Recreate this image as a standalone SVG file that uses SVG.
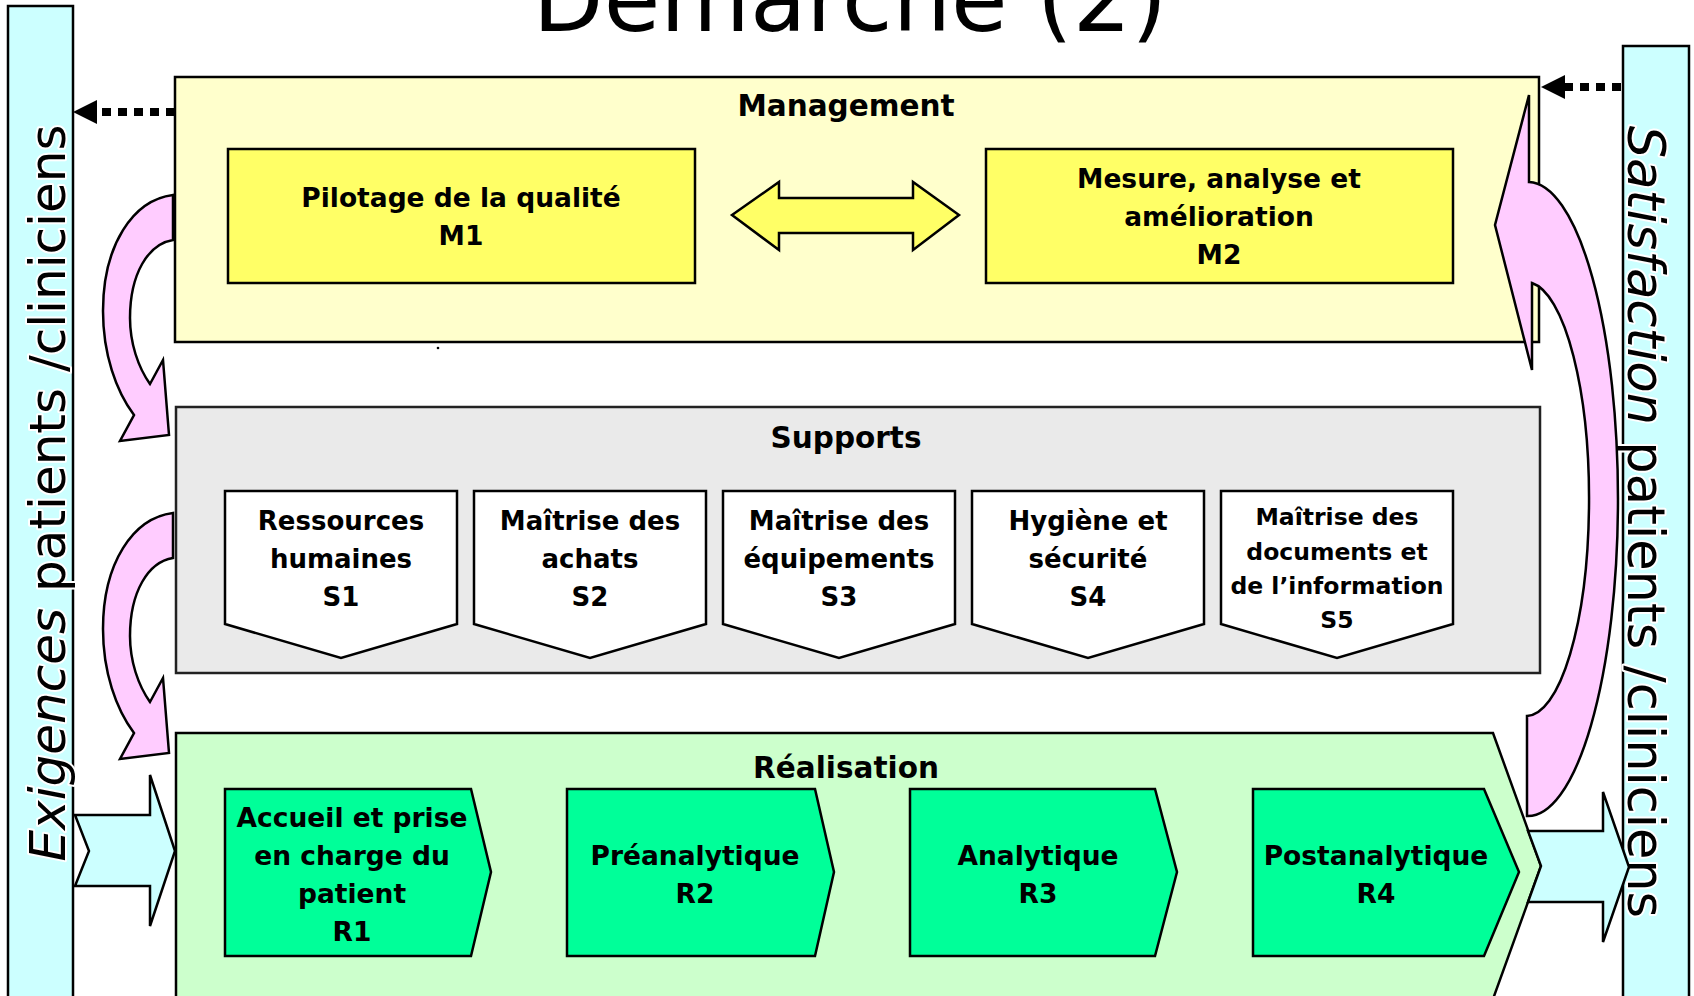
<svg xmlns="http://www.w3.org/2000/svg" width="1694" height="996" viewBox="0 0 1694 996">
<style>
text{font-family:"DejaVu Sans","Liberation Sans",sans-serif;fill:#000}
.h{font-weight:bold;font-size:29.5px;text-anchor:middle}
.m{font-weight:bold;font-size:26.5px;text-anchor:middle}
.s{font-weight:bold;font-size:26px;text-anchor:middle}
.s5{font-weight:bold;font-size:23.5px;text-anchor:middle}
.r{font-weight:bold;font-size:26.5px;text-anchor:middle}
.v{font-size:50px;text-anchor:middle;stroke:#fff;stroke-width:4px;paint-order:stroke;stroke-linejoin:round}
.ln{stroke:#000;stroke-width:2.5;stroke-linejoin:miter}
.pink{fill:#FFCCFF;stroke:#000;stroke-width:2.5}
.cyan{fill:#CCFFFF;stroke:#000;stroke-width:2.5}
.dot{fill:none;stroke:#000;stroke-width:8;stroke-dasharray:9 7}
</style>
<defs>
<marker id="ah" viewBox="0 0 24 24" markerWidth="24" markerHeight="24" refX="0" refY="12" orient="auto" markerUnits="userSpaceOnUse">
<path d="M0,0 L24,12 L0,24 Z" fill="#000"/>
</marker>
</defs>

<text x="850" y="31" font-size="92" text-anchor="middle">Démarche (2)</text>

<g id="exigences">
<rect x="8" y="6" width="65" height="996" fill="#CCFFFF" class="ln"/>
<text class="v" transform="translate(65,493) rotate(-90)"><tspan font-style="italic">Exigences</tspan> patients /cliniciens</text>
</g>

<g id="satisfaction">
<rect x="1623" y="46" width="66" height="956" fill="#CCFFFF" class="ln"/>
<text class="v" style="font-size:51px" transform="translate(1628,522) rotate(90)"><tspan font-style="italic">Satisfaction</tspan> patients /cliniciens</text>
</g>

<g id="management">
<rect x="175" y="77" width="1364" height="265" fill="#FFFFCC" class="ln"/>
<text class="h" x="846" y="116">Management</text>
</g>
<g id="m1">
<rect x="228" y="149" width="467" height="134" fill="#FFFF66" class="ln"/>
<text class="m" x="461" y="207">Pilotage de la qualité</text>
<text class="m" x="461" y="245">M1</text>
</g>
<g id="m2">
<rect x="986" y="149" width="467" height="134" fill="#FFFF66" class="ln"/>
<text class="m" x="1219" y="188">Mesure, analyse et</text>
<text class="m" x="1219" y="226">amélioration</text>
<text class="m" x="1219" y="264">M2</text>
</g>
<circle cx="438" cy="348" r="1.3" fill="#000"/>

<g id="supports">
<rect x="176" y="407" width="1364" height="266" fill="#EAEAEA" stroke="#222" stroke-width="2.5"/>
<text class="h" x="846" y="448">Supports</text>
</g>
<g id="s1">
<path d="M225,491 H457 V624 L341,658 L225,624 Z" fill="#fff" class="ln"/>
<text class="s" x="341" y="530">Ressources</text>
<text class="s" x="341" y="568">humaines</text>
<text class="s" x="341" y="606">S1</text>
</g>
<g id="s2">
<path d="M474,491 H706 V624 L590,658 L474,624 Z" fill="#fff" class="ln"/>
<text class="s" x="590" y="530">Maîtrise des</text>
<text class="s" x="590" y="568">achats</text>
<text class="s" x="590" y="606">S2</text>
</g>
<g id="s3">
<path d="M723,491 H955 V624 L839,658 L723,624 Z" fill="#fff" class="ln"/>
<text class="s" x="839" y="530">Maîtrise des</text>
<text class="s" x="839" y="568">équipements</text>
<text class="s" x="839" y="606">S3</text>
</g>
<g id="s4">
<path d="M972,491 H1204 V624 L1088,658 L972,624 Z" fill="#fff" class="ln"/>
<text class="s" x="1088" y="530">Hygiène et</text>
<text class="s" x="1088" y="568">sécurité</text>
<text class="s" x="1088" y="606">S4</text>
</g>
<g id="s5">
<path d="M1221,491 H1453 V624 L1337,658 L1221,624 Z" fill="#fff" class="ln"/>
<text class="s5" x="1337" y="525">Maîtrise des</text>
<text class="s5" x="1337" y="560">documents et</text>
<text class="s5" x="1337" y="594">de l’information</text>
<text class="s5" x="1337" y="628">S5</text>
</g>

<g id="realisation">
<path d="M176,733 H1493 L1541,866 L1493,999 H176 Z" fill="#CCFFCC" class="ln"/>
<text class="h" x="846" y="778">Réalisation</text>
</g>
<g id="r1">
<path d="M225,789 H471 L491,872 L471,956 H225 Z" fill="#00FF99" class="ln"/>
<text class="r" x="352" y="827">Accueil et prise</text>
<text class="r" x="352" y="865">en charge du</text>
<text class="r" x="352" y="903">patient</text>
<text class="r" x="352" y="941">R1</text>
</g>
<g id="r2">
<path d="M567,789 H815 L834,872 L815,956 H567 Z" fill="#00FF99" class="ln"/>
<text class="r" x="695" y="865">Préanalytique</text>
<text class="r" x="695" y="903">R2</text>
</g>
<g id="r3">
<path d="M910,789 H1155 L1177,872 L1155,956 H910 Z" fill="#00FF99" class="ln"/>
<text class="r" x="1038" y="865">Analytique</text>
<text class="r" x="1038" y="903">R3</text>
</g>
<g id="r4">
<path d="M1253,789 H1484 L1519,872 L1484,956 H1253 Z" fill="#00FF99" class="ln"/>
<text class="r" x="1376" y="865">Postanalytique</text>
<text class="r" x="1376" y="903">R4</text>
</g>

<g id="connectors">
<line class="dot" x1="175" y1="112" x2="97" y2="112" marker-end="url(#ah)"/>
<line class="dot" x1="1621" y1="87" x2="1565" y2="87" marker-end="url(#ah)"/>
<path d="M732,215 L779,182 V198 H913 V182 L959,215 L913,250 V233 H779 V250 Z" fill="#FFFF66" class="ln"/>
<path class="pink" d="M173,195 C133,200 103,245 103,311 C103,354 116,391 134,415 L120,441 L169,435 L163,360 L150,384 C138,367 130,343 130,318 C130,274 148,244 173,240 Z"/>
<path class="pink" transform="translate(0,318)" d="M173,195 C133,200 103,245 103,311 C103,354 116,391 134,415 L120,441 L169,435 L163,360 L150,384 C138,367 130,343 130,318 C130,274 148,244 173,240 Z"/>
<path class="pink" d="M1527,816 A90,317 0 0 0 1529,182 L1529,95 L1495,225 L1532,370 L1532,283 A63,217 0 0 1 1527,716 Z"/>
<path class="cyan" d="M75,815 H150 V775 L175,851 L150,926 V886 H75 L89,851 Z"/>
<path class="cyan" d="M1528,831 H1603 V792 L1629,867 L1603,942 V902 H1528 L1541,866 Z"/>
</g>
</svg>
